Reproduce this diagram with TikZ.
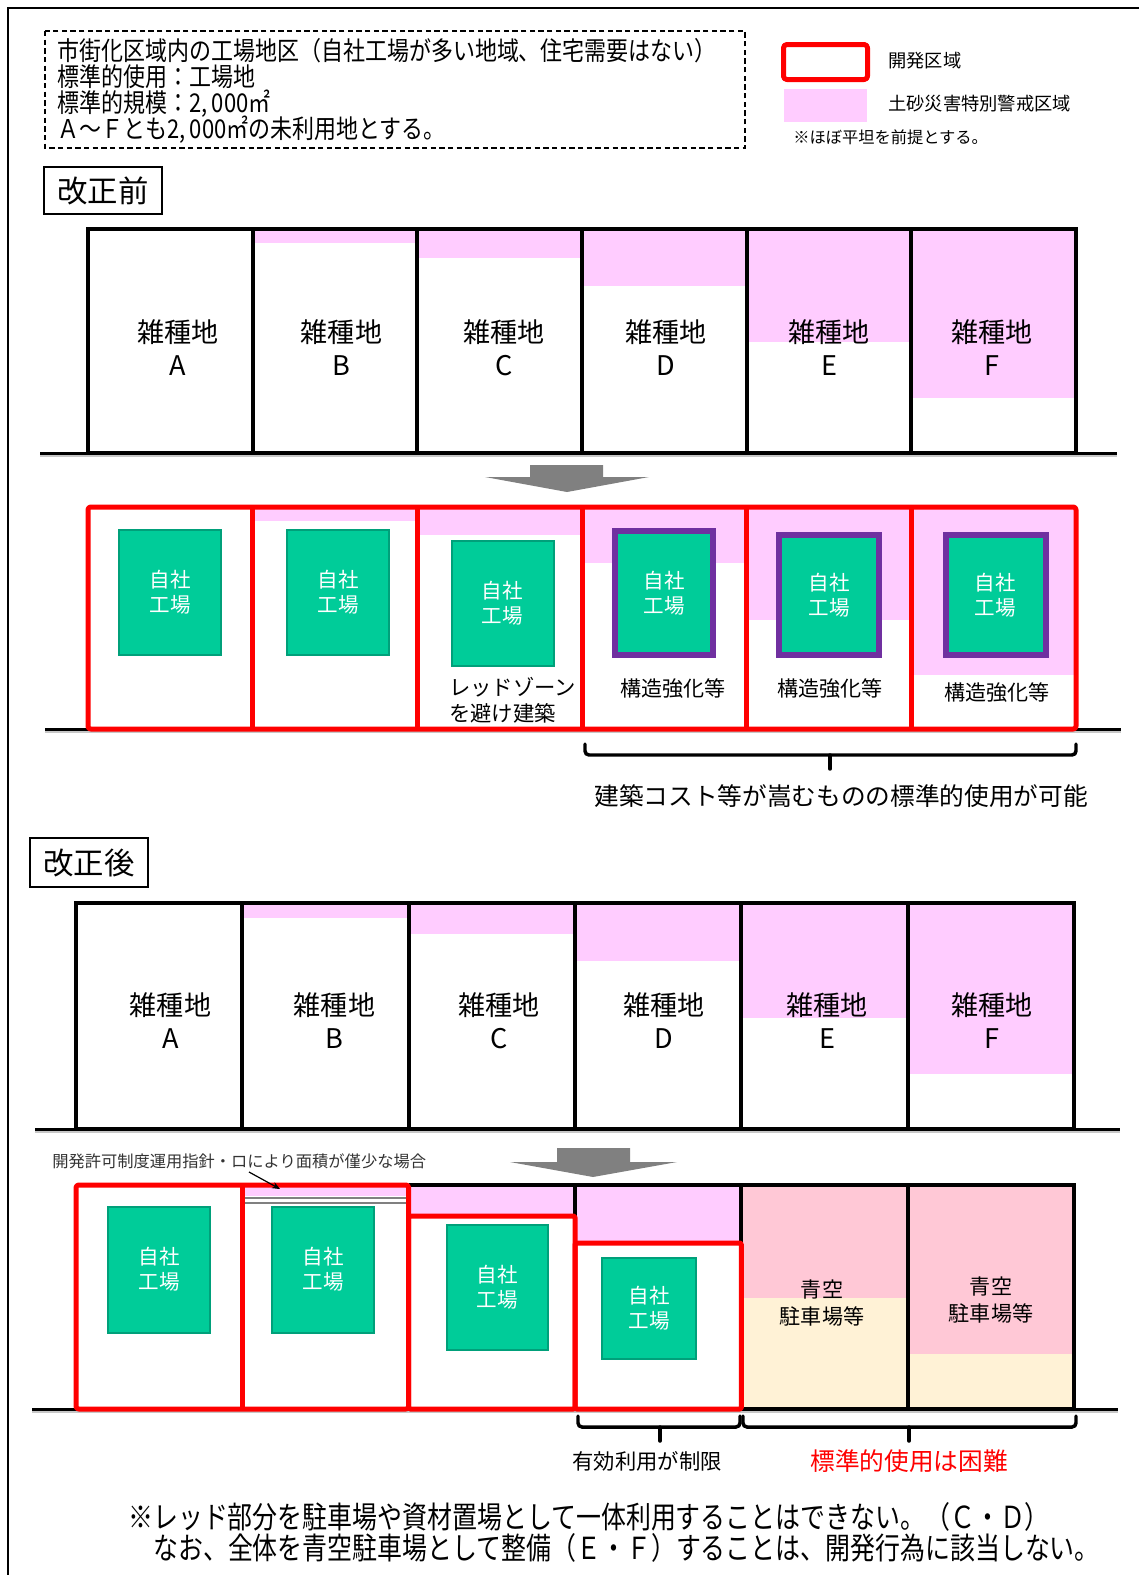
\documentclass[tikz,border=0pt]{standalone}
\usepackage{fontspec}
\setmainfont{Noto Sans CJK JP}
\newfontfamily\condfont[FakeStretch=0.85]{Noto Sans CJK JP}
\newfontfamily\footfont[FakeStretch=0.82]{Noto Sans CJK JP}
\usetikzlibrary{arrows.meta}
\definecolor{zone}{HTML}{FFCCFF}
\definecolor{devred}{HTML}{FF0000}
\definecolor{fgreen}{HTML}{00CC99}
\definecolor{fgreenb}{HTML}{00A07A}
\definecolor{fpurple}{HTML}{7030A0}
\definecolor{parkpink}{HTML}{FFC8D6}
\definecolor{parkcream}{HTML}{FFF2D6}
\definecolor{arrowgray}{HTML}{808080}
\newcommand\fsz[2]{\fontsize{#1}{#2}\selectfont}
\begin{document}
\begin{tikzpicture}[x=0.75pt,y=-0.75pt,
  lotline/.style={line width=3pt,draw=black},
  redline/.style={line width=3.75pt,draw=devred,line join=round},
  ground/.style={line width=2.25pt,black},
  groundshadow/.style={line width=2.25pt,black!22},
  factory/.style={draw=fgreenb,fill=fgreen,line width=1.5pt,text=white,align=center,inner sep=0pt,font=\fsz{15.4pt}{18.75pt},minimum width=76.5pt,minimum height=93.75pt},
  reinforced/.style={factory,draw=fpurple,line width=4.5pt,minimum width=73.5pt,minimum height=90pt},
  lotlabel/.style={align=center,font=\fsz{20.3pt}{24.75pt}},
  note/.style={anchor=west,inner sep=0pt},
  brace/.style={line width=2.6pt,line cap=round,rounded corners=3pt},
  blockarrow/.style={fill=arrowgray},
  titlebox/.style={draw,line width=1.1pt,minimum width=88.5pt,font=\fsz{22.8pt}{26pt}},
  smalltext/.style={font=\fsz{15.8pt}{20pt},align=center},
]
\useasboundingbox (0,0) rectangle (1139,1575);
% frame
\draw[line width=2pt] (8,1575) -- (8,8) -- (1139,8);

% conditions box
\draw[dashed,line width=1.1pt,dash pattern=on 4pt off 2.5pt] (45,31) rectangle (745,148);
\node[note,font=\condfont\fsz{19.4pt}{22pt}] (cond1) at (57,51) {市街化区域内の工場地区（自社工場が多い地域、住宅需要はない）};
\node[note,font=\condfont\fsz{19.4pt}{22pt}] (cond2) at (57,77) {標準的使用：工場地};
\node[note,font=\condfont\fsz{19.4pt}{22pt}] (cond3) at (57,103.5) {標準的規模：2,\,000㎡};
\node[note,font=\condfont\fsz{19.4pt}{22pt}] (cond4) at (57,129.5) {Ａ～Ｆとも2,\,000㎡の未利用地とする。};

% legend
\draw[redline,rounded corners=2.5pt] (783.5,44.5) rectangle (867.5,79.5);
\fill[zone] (784,89) rectangle (867,122);
\node[note,font=\fsz{13.7pt}{16pt}] (legred) at (888,61) {開発区域};
\node[note,font=\fsz{13.7pt}{16pt}] (legpink) at (888,104) {土砂災害特別警戒区域};
\node[note,font=\fsz{12.2pt}{14pt}] (legflat) at (793,137) {※ほぼ平坦を前提とする。};

% ===== before =====
\node[titlebox,minimum height=35.25pt] (before) at (103,190.5) {改正前};

\draw[groundshadow] (40,455.5) -- (1117,455.5);
\draw[ground] (40,453) -- (1117,453);
\foreach \i/\pb/\L/\tx in {0/229/A/178,1/243/B/341.5,2/258/C/503.7,3/286/D/666,4/342/E/829,5/398/F/992}{
  \pgfmathsetmacro\xa{88+164.667*\i}
  \pgfmathsetmacro\xb{88+164.667*(\i+1)}
  \fill[zone] (\xa,229) rectangle (\xb,\pb);
  \draw[lotline] (\xa,229) rectangle (\xb,453);
  \node[lotlabel] (pre\L) at (\tx,347.5) {雑種地\\\L};
}

% arrow 1
\fill[blockarrow] (530,465) -- (603,465) -- (603,477) -- (649,477) -- (567,492) -- (485,477) -- (530,477) -- cycle;

\draw[groundshadow] (45,731.5) -- (1121,731.5);
\draw[ground] (45,729) -- (1121,729);
\fill[white] (88,507) rectangle (1076,729);
\foreach \i/\pb in {1/521,2/535,3/563,4/620,5/675}{
  \pgfmathsetmacro\xa{88+164.667*\i}
  \pgfmathsetmacro\xb{88+164.667*(\i+1)}
  \fill[zone] (\xa,507) rectangle (\xb,\pb);
}
\node[factory] (bfA) at (170,592.5) {自社\\工場};
\node[factory] (bfB) at (338,592.5) {自社\\工場};
\node[factory] (bfC) at (502.5,603.5) {自社\\工場};
\node[reinforced,minimum height=93pt] (bfD) at (664,593) {自社\\工場};
\node[reinforced,minimum width=75pt] (bfE) at (829,595) {自社\\工場};
\node[reinforced,minimum width=75pt] (bfF) at (995.5,595) {自社\\工場};
\node[note,align=left,font=\fsz{16pt}{19.5pt}] (avoid) at (449,700) {レッドゾーン\\を避け建築};
\node[smalltext] (strD) at (673,689) {構造強化等};
\node[smalltext] (strE) at (830,689) {構造強化等};
\node[smalltext] (strF) at (997,693) {構造強化等};
\draw[redline,rounded corners=2pt] (88,507) rectangle (1076,729);
\foreach \i in {1,...,5}{
  \pgfmathsetmacro\xa{88+164.667*\i}
  \draw[redline] (\xa,507) -- (\xa,729);
}

% brace 1
\coordinate (b1l) at (585,744);
\coordinate (b1r) at (1076,744);
\coordinate (b1m) at (830,755);
\draw[brace] (b1l) -- (585,755) -- (1076,755) -- (b1r);
\draw[brace] (b1m) -- (830,769);
\node[font=\fsz{18.5pt}{22pt}] (costnote) at (841,796) {建築コスト等が嵩むものの標準的使用が可能};

% ===== after =====
\node[titlebox,minimum height=36.75pt] (after) at (89,862.5) {改正後};

\draw[groundshadow] (35,1131.5) -- (1120,1131.5);
\draw[ground] (35,1129) -- (1120,1129);
\foreach \i/\pb/\L/\tx in {0/903/A/170.5,1/918/B/334.5,2/934/C/499,3/961/D/664,4/1018/E/827,5/1074/F/992}{
  \pgfmathsetmacro\xa{76+166.333*\i}
  \pgfmathsetmacro\xb{76+166.333*(\i+1)}
  \fill[zone] (\xa,903) rectangle (\xb,\pb);
  \draw[lotline] (\xa,903) rectangle (\xb,1129);
  \node[lotlabel] (post\L) at (\tx,1021) {雑種地\\\L};
}

% arrow 2
\fill[blockarrow] (557,1148) -- (630,1148) -- (630,1162) -- (677,1162) -- (593,1177) -- (510,1162) -- (557,1162) -- cycle;

\node[note,font=\fsz{12.2pt}{14pt},text=black!80] (callout) at (52,1161) {開発許可制度運用指針・ロにより面積が僅少な場合};

\draw[groundshadow] (32,1411.5) -- (1118,1411.5);
\draw[ground] (32,1409) -- (1118,1409);
\fill[white] (76,1185) rectangle (741.33,1409);
\fill[zone] (242.33,1185) rectangle (408.67,1196);
\draw[black!50,line width=1.1pt] (242.33,1198) -- (408.67,1198);
\draw[black!50,line width=1.1pt] (242.33,1203) -- (408.67,1203);
\fill[zone] (408.67,1185) rectangle (575,1216);
\fill[zone] (575,1185) rectangle (741.33,1243);
\draw[lotline] (408.67,1185) -- (741.33,1185);
\draw[lotline] (575,1185) -- (575,1216);
\fill[parkpink] (741.33,1185) rectangle (907.67,1298);
\fill[parkcream] (741.33,1298) rectangle (907.67,1409);
\fill[parkpink] (907.67,1185) rectangle (1074,1354);
\fill[parkcream] (907.67,1354) rectangle (1074,1409);
\draw[lotline] (741.33,1185) rectangle (907.67,1409);
\draw[lotline] (907.67,1185) rectangle (1074,1409);
\node[smalltext] (parkE) at (822,1303) {青空\\駐車場等};
\node[smalltext] (parkF) at (991,1300) {青空\\駐車場等};

\node[factory,minimum height=94.5pt] (afA) at (159,1269.5) {自社\\工場};
\node[factory,minimum height=94.5pt] (afB) at (323,1269.5) {自社\\工場};
\node[factory,minimum width=75.75pt] (afC) at (497.5,1287) {自社\\工場};
\node[factory,minimum width=70.5pt,minimum height=75.75pt] (afD) at (649,1308) {自社\\工場};

\draw[redline,rounded corners=2pt] (76,1185) rectangle (408.67,1409);
\draw[redline] (242.33,1185) -- (242.33,1409);
\draw[redline,rounded corners=1pt] (408.67,1216) rectangle (575,1409);
\draw[redline,rounded corners=1pt] (575,1243) rectangle (741.33,1409);

\coordinate (callstart) at (249,1172);
\coordinate (calltip) at (280,1189);
\draw[-{Stealth[length=6pt,width=5pt]},line width=0.9pt] (callstart) -- (calltip);

% braces 2
\coordinate (b2l) at (578,1416);
\coordinate (b2r) at (740,1416);
\draw[brace] (b2l) -- (578,1427) -- (740,1427) -- (b2r);
\draw[brace] (660,1427) -- (660,1441);
\coordinate (b3l) at (743,1416);
\coordinate (b3r) at (1076,1416);
\draw[brace] (b3l) -- (743,1427) -- (1076,1427) -- (b3r);
\draw[brace] (909,1427) -- (909,1441);
\node[font=\fsz{16pt}{19pt}] (limited) at (647,1461) {有効利用が制限};
\node[font=\fsz{18.5pt}{22pt},text=devred] (difficult) at (909,1461) {標準的使用は困難};

% bottom notes
\node[note,font=\footfont\fsz{22.8pt}{26pt}] (foot1) at (128,1517) {※レッド部分を駐車場や資材置場として一体利用することはできない。（Ｃ・Ｄ）};
\node[note,font=\footfont\fsz{22.8pt}{26pt}] (foot2) at (153,1548) {なお、全体を青空駐車場として整備（Ｅ・Ｆ）することは、開発行為に該当しない。};
\end{tikzpicture}
\end{document}
